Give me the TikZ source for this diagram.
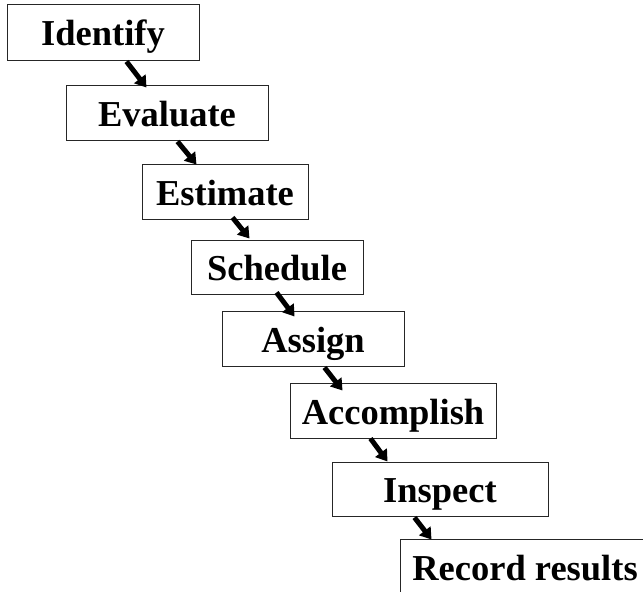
\documentclass[tikz,border=0pt]{standalone}
\usepackage{fontspec}
\setmainfont{Liberation Serif}
\usetikzlibrary{arrows.meta}
\begin{document}
\begin{tikzpicture}[x=1pt,y=-1pt,
  stepbox/.style={draw=black!85, line width=1pt, inner sep=0pt, rectangle,
    font=\fontsize{36.5}{40}\selectfont\bfseries,
    text height=27pt, text depth=0pt},
  arr/.style={line width=5pt, -{Triangle[width=14pt,length=11pt]}}]
\useasboundingbox (0,0) rectangle (643,592);
\clip (0,0) rectangle (643,592);
\node[stepbox, minimum width=192pt, minimum height=56pt] (id) at (103,32) {Identify};
\node[stepbox, minimum width=202pt, minimum height=55pt] (ev) at (167,112.5) {Evaluate};
\node[stepbox, minimum width=166pt, minimum height=55pt] (es) at (225,191.5) {Estimate};
\node[stepbox, minimum width=172pt, minimum height=54pt] (sc) at (277,267) {Schedule};
\node[stepbox, minimum width=182pt, minimum height=55pt] (as) at (313,338.5) {Assign};
\node[stepbox, minimum width=206pt, minimum height=55pt] (ac) at (393,410.5) {Accomplish};
\node[stepbox, minimum width=216pt, minimum height=54pt] (in) at (440,489) {Inspect};
\node[stepbox, minimum width=250pt, minimum height=55pt] (rr) at (525,566.5) {Record results};
\draw[arr] ([xshift=120pt,yshift=-1pt]id.south west) -- ([xshift=81pt,yshift=-3pt]ev.north west);
\draw[arr] ([xshift=112pt,yshift=-1pt]ev.south west) -- ([xshift=55pt,yshift=-1pt]es.north west);
\draw[arr] ([xshift=91pt,yshift=2pt]es.south west) -- ([xshift=59pt,yshift=1pt]sc.north west);
\draw[arr] ([xshift=86pt,yshift=2pt]sc.south west) -- ([xshift=73pt,yshift=-6pt]as.north west);
\draw[arr] ([xshift=103pt,yshift=-1pt]as.south west) -- ([xshift=53pt,yshift=-8pt]ac.north west);
\draw[arr] ([xshift=81pt]ac.south west) -- ([xshift=56pt]in.north west);
\draw[arr] ([xshift=83pt,yshift=-1pt]in.south west) -- ([xshift=32pt,yshift=-1pt]rr.north west);
\end{tikzpicture}
\end{document}
